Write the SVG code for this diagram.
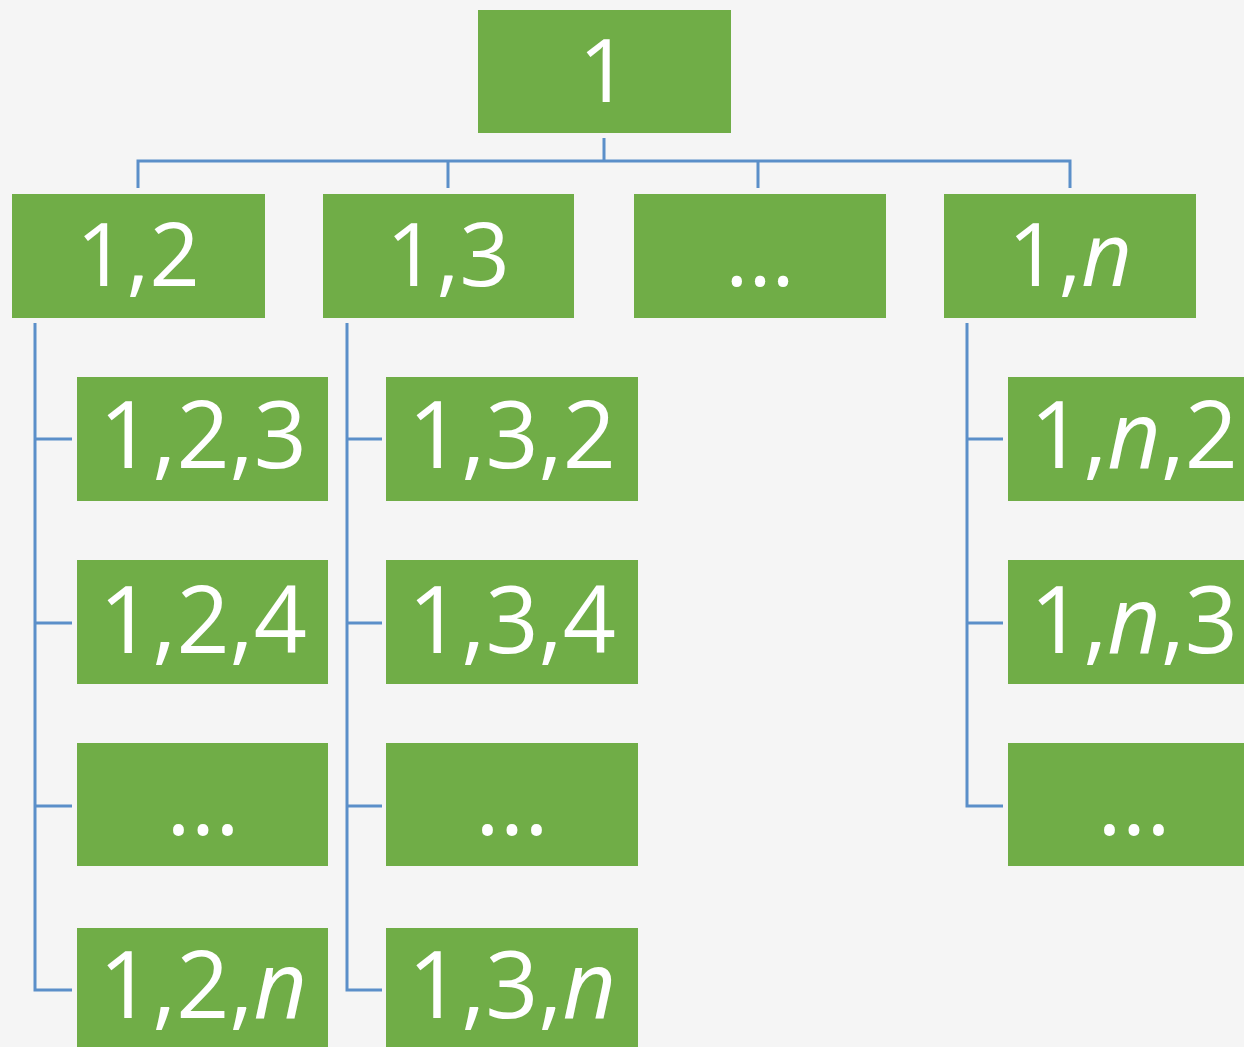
<svg xmlns="http://www.w3.org/2000/svg" width="1244" height="1047" viewBox="0 0 1244 1047">
<style>
.n{fill:#70ad47}
.t{fill:#ffffff;font-family:"Open Sans","Liberation Sans",sans-serif;text-anchor:middle}
.a{font-size:88px}
.b{font-size:93px}
.c{fill:none;stroke:#5b8fc9;stroke-width:3}
</style>
<rect width="1244" height="1047" fill="#f5f5f5"/>
<g id="connectors">
<path class="c" d="M604,138V161M138,188V161H1070V188M448,161V188M758,161V188"/>
<path class="c" d="M35,323V990H72M35,439H72M35,623H72M35,806H72"/>
<path class="c" d="M347,323V990H382M347,439H382M347,623H382M347,806H382"/>
<path class="c" d="M967,323V806H1003M967,439H1003M967,623H1003"/>
</g>
<g id="n1"><rect class="n" x="478" y="10" width="253" height="123"/><text class="t a" x="604" y="102">1</text></g>
<g id="n12"><rect class="n" x="12" y="194" width="253" height="124"/><text class="t a" x="138" y="286">1,2</text></g>
<g id="n13"><rect class="n" x="323" y="194" width="251" height="124"/><text class="t a" x="448" y="286">1,3</text></g>
<g id="n1dots"><rect class="n" x="634" y="194" width="252" height="124"/><text class="t a" x="760" y="286">...</text></g>
<g id="n1n"><rect class="n" x="944" y="194" width="252" height="124"/><text class="t a" x="1070" y="286">1,<tspan font-style="italic">n</tspan></text></g>
<g id="n123"><rect class="n" x="77" y="377" width="251" height="124"/><text class="t b" x="203" y="468">1,2,3</text></g>
<g id="n124"><rect class="n" x="77" y="560" width="251" height="124"/><text class="t b" x="203" y="653">1,2,4</text></g>
<g id="n12dots"><rect class="n" x="77" y="743" width="251" height="123"/><text class="t b" x="203" y="835">...</text></g>
<g id="n12n"><rect class="n" x="77" y="928" width="251" height="130"/><text class="t b" x="203" y="1018">1,2,<tspan font-style="italic">n</tspan></text></g>
<g id="n132"><rect class="n" x="386" y="377" width="252" height="124"/><text class="t b" x="512" y="468">1,3,2</text></g>
<g id="n134"><rect class="n" x="386" y="560" width="252" height="124"/><text class="t b" x="512" y="653">1,3,4</text></g>
<g id="n13dots"><rect class="n" x="386" y="743" width="252" height="123"/><text class="t b" x="512" y="835">...</text></g>
<g id="n13n"><rect class="n" x="386" y="928" width="252" height="130"/><text class="t b" x="512" y="1018">1,3,<tspan font-style="italic">n</tspan></text></g>
<g id="n1n2"><rect class="n" x="1008" y="377" width="252" height="124"/><text class="t b" x="1134" y="468">1,<tspan font-style="italic">n</tspan>,2</text></g>
<g id="n1n3"><rect class="n" x="1008" y="560" width="252" height="124"/><text class="t b" x="1134" y="653">1,<tspan font-style="italic">n</tspan>,3</text></g>
<g id="n1ndots"><rect class="n" x="1008" y="743" width="252" height="123"/><text class="t b" x="1134" y="835">...</text></g>
</svg>
